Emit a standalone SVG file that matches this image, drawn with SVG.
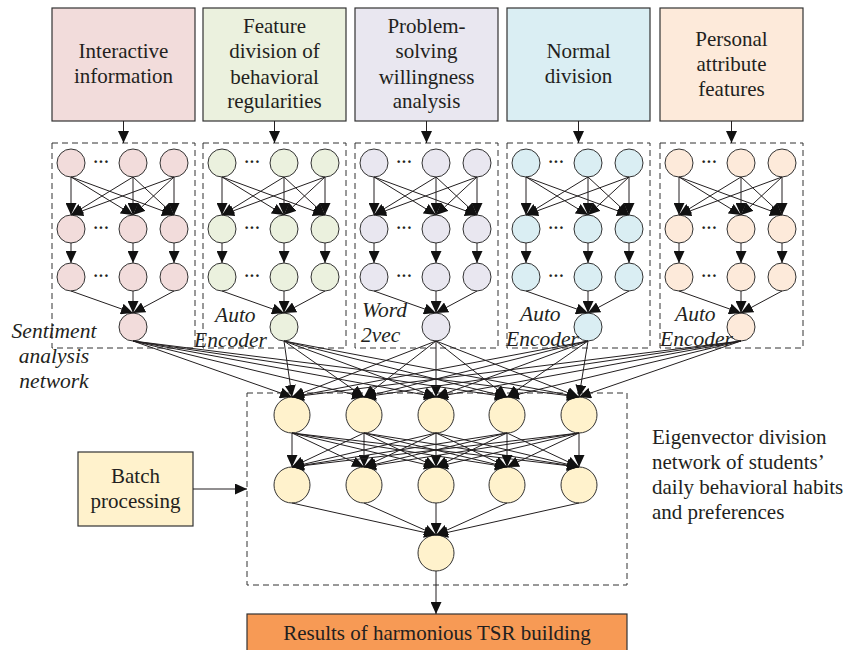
<svg xmlns="http://www.w3.org/2000/svg" width="848" height="650" viewBox="0 0 848 650">
<style>
.box{stroke:#333;stroke-width:1.2}
.t{font-family:"Liberation Serif","Times New Roman",serif;font-size:21px;fill:#231f20;text-anchor:middle}
.ts{font-family:"Liberation Serif","Times New Roman",serif;font-size:21px;fill:#231f20;text-anchor:start}
.it{font-family:"Liberation Serif","Times New Roman",serif;font-size:21.5px;font-style:italic;fill:#231f20}
.dash{fill:none;stroke:#333;stroke-width:1;stroke-dasharray:6 4}
.n{stroke:#333;stroke-width:1}
.p{fill:#f2dcdb}.g{fill:#ebf1de}.l{fill:#e9e7f0}.b{fill:#daeef3}.o{fill:#fdeada}.y{fill:#fff2cc}
.dots{font-family:"Liberation Serif",serif;font-size:16px;font-weight:bold;fill:#231f20;text-anchor:middle}
#conn path{fill:none;stroke:#231f20;stroke-width:1;marker-end:url(#ah)}
</style>
<defs>
<marker id="ah" markerUnits="userSpaceOnUse" markerWidth="12" markerHeight="11" viewBox="0 0 12 11" refX="12" refY="5.5" orient="auto"><path d="M0,0 L12,5.5 L0,11 z" fill="#111"/></marker>
</defs>
<rect width="848" height="650" fill="#fff"/>

<g id="in1"><rect class="box p" x="52" y="8" width="143" height="113"/><text class="t" x="123.5" y="58">Interactive</text><text class="t" x="123.5" y="83">information</text></g>
<g id="in2"><rect class="box g" x="203" y="8" width="143" height="113"/><text class="t" x="274.5" y="33">Feature</text><text class="t" x="274.5" y="58">division of</text><text class="t" x="274.5" y="84">behavioral</text><text class="t" x="274.5" y="108">regularities</text></g>
<g id="in3"><rect class="box l" x="355" y="8" width="143" height="113"/><text class="t" x="426.5" y="33">Problem-</text><text class="t" x="426.5" y="58">solving</text><text class="t" x="426.5" y="84">willingness</text><text class="t" x="426.5" y="108">analysis</text></g>
<g id="in4"><rect class="box b" x="507" y="8" width="143" height="113"/><text class="t" x="578.5" y="58">Normal</text><text class="t" x="578.5" y="83">division</text></g>
<g id="in5"><rect class="box o" x="660" y="8" width="143" height="113"/><text class="t" x="731.5" y="46">Personal</text><text class="t" x="731.5" y="71">attribute</text><text class="t" x="731.5" y="96">features</text></g>

<g id="net1">
<rect class="dash" x="52" y="143" width="143" height="205"/>
<circle class="n p" cx="71" cy="163" r="14"/><circle class="n p" cx="133" cy="163" r="14"/><circle class="n p" cx="174" cy="163" r="14"/>
<circle class="n p" cx="71" cy="229" r="14"/><circle class="n p" cx="133" cy="229" r="14"/><circle class="n p" cx="174" cy="229" r="14"/>
<circle class="n p" cx="71" cy="277" r="14"/><circle class="n p" cx="133" cy="277" r="14"/><circle class="n p" cx="174" cy="277" r="14"/>
<circle class="n p" cx="133" cy="327" r="14"/>
<text class="dots" x="101" y="167">···</text><text class="dots" x="101" y="233">···</text><text class="dots" x="101" y="281">···</text>
</g>
<g id="net2">
<rect class="dash" x="203" y="143" width="143" height="205"/>
<circle class="n g" cx="222" cy="163" r="14"/><circle class="n g" cx="284" cy="163" r="14"/><circle class="n g" cx="325" cy="163" r="14"/>
<circle class="n g" cx="222" cy="229" r="14"/><circle class="n g" cx="284" cy="229" r="14"/><circle class="n g" cx="325" cy="229" r="14"/>
<circle class="n g" cx="222" cy="277" r="14"/><circle class="n g" cx="284" cy="277" r="14"/><circle class="n g" cx="325" cy="277" r="14"/>
<circle class="n g" cx="284" cy="327" r="14"/>
<text class="dots" x="252" y="167">···</text><text class="dots" x="252" y="233">···</text><text class="dots" x="252" y="281">···</text>
</g>
<g id="net3">
<rect class="dash" x="355" y="143" width="143" height="205"/>
<circle class="n l" cx="374" cy="163" r="14"/><circle class="n l" cx="436" cy="163" r="14"/><circle class="n l" cx="477" cy="163" r="14"/>
<circle class="n l" cx="374" cy="229" r="14"/><circle class="n l" cx="436" cy="229" r="14"/><circle class="n l" cx="477" cy="229" r="14"/>
<circle class="n l" cx="374" cy="277" r="14"/><circle class="n l" cx="436" cy="277" r="14"/><circle class="n l" cx="477" cy="277" r="14"/>
<circle class="n l" cx="436" cy="327" r="14"/>
<text class="dots" x="404" y="167">···</text><text class="dots" x="404" y="233">···</text><text class="dots" x="404" y="281">···</text>
</g>
<g id="net4">
<rect class="dash" x="507" y="143" width="143" height="205"/>
<circle class="n b" cx="526" cy="163" r="14"/><circle class="n b" cx="588" cy="163" r="14"/><circle class="n b" cx="629" cy="163" r="14"/>
<circle class="n b" cx="526" cy="229" r="14"/><circle class="n b" cx="588" cy="229" r="14"/><circle class="n b" cx="629" cy="229" r="14"/>
<circle class="n b" cx="526" cy="277" r="14"/><circle class="n b" cx="588" cy="277" r="14"/><circle class="n b" cx="629" cy="277" r="14"/>
<circle class="n b" cx="588" cy="327" r="14"/>
<text class="dots" x="556" y="167">···</text><text class="dots" x="556" y="233">···</text><text class="dots" x="556" y="281">···</text>
</g>
<g id="net5">
<rect class="dash" x="660" y="143" width="143" height="205"/>
<circle class="n o" cx="679" cy="163" r="14"/><circle class="n o" cx="741" cy="163" r="14"/><circle class="n o" cx="782" cy="163" r="14"/>
<circle class="n o" cx="679" cy="229" r="14"/><circle class="n o" cx="741" cy="229" r="14"/><circle class="n o" cx="782" cy="229" r="14"/>
<circle class="n o" cx="679" cy="277" r="14"/><circle class="n o" cx="741" cy="277" r="14"/><circle class="n o" cx="782" cy="277" r="14"/>
<circle class="n o" cx="741" cy="327" r="14"/>
<text class="dots" x="709" y="167">···</text><text class="dots" x="709" y="233">···</text><text class="dots" x="709" y="281">···</text>
</g>

<g id="labels">
<text class="it" x="54" y="338" text-anchor="middle">Sentiment</text>
<text class="it" x="54" y="363" text-anchor="middle">analysis</text>
<text class="it" x="54" y="388" text-anchor="middle">network</text>
<text class="it" x="215" y="322">Auto</text><text class="it" x="194" y="347">Encoder</text>
<text class="it" x="362" y="317">Word</text><text class="it" x="361" y="342">2vec</text>
<text class="it" x="520" y="321">Auto</text><text class="it" x="506" y="346">Encoder</text>
<text class="it" x="675" y="321">Auto</text><text class="it" x="660" y="346">Encoder</text>
</g>

<g id="main">
<rect class="dash" x="247" y="393" width="380" height="192"/>
<circle class="n y" cx="292" cy="415" r="18"/><circle class="n y" cx="364" cy="415" r="18"/><circle class="n y" cx="436" cy="415" r="18"/><circle class="n y" cx="507" cy="415" r="18"/><circle class="n y" cx="579" cy="415" r="18"/>
<circle class="n y" cx="292" cy="485" r="18"/><circle class="n y" cx="364" cy="485" r="18"/><circle class="n y" cx="436" cy="485" r="18"/><circle class="n y" cx="507" cy="485" r="18"/><circle class="n y" cx="579" cy="485" r="18"/>
<circle class="n y" cx="436" cy="553" r="18"/>
</g>
<g id="desc"><text class="ts" x="652" y="444">Eigenvector division</text><text class="ts" x="652" y="469">network of students’</text><text class="ts" x="652" y="494">daily behavioral habits</text><text class="ts" x="652" y="519">and preferences</text></g>
<g id="batch"><rect class="box y" x="78" y="452" width="115" height="74"/><text class="t" x="135.5" y="483">Batch</text><text class="t" x="135.5" y="508">processing</text></g>
<g id="result"><rect class="box" fill="#f79a55" x="247" y="614" width="380" height="40"/><text class="t" x="437" y="640">Results of harmonious TSR building</text></g>

<g id="conn">
<path d="M123.5 121V143"/><path d="M274.5 121V143"/><path d="M426.5 121V143"/><path d="M578.5 121V143"/><path d="M731.5 121V143"/>
<path d="M71 177L71 215"/><path d="M71 177L133 215"/><path d="M71 177L174 215"/><path d="M133 177L71 215"/><path d="M133 177L133 215"/><path d="M133 177L174 215"/><path d="M174 177L71 215"/><path d="M174 177L133 215"/><path d="M174 177L174 215"/>
<path d="M71 243L71 263"/><path d="M133 243L133 263"/><path d="M174 243L174 263"/>
<path d="M71 291L133 313"/><path d="M133 291L133 313"/><path d="M174 291L133 313"/>
<path d="M222 177L222 215"/><path d="M222 177L284 215"/><path d="M222 177L325 215"/><path d="M284 177L222 215"/><path d="M284 177L284 215"/><path d="M284 177L325 215"/><path d="M325 177L222 215"/><path d="M325 177L284 215"/><path d="M325 177L325 215"/>
<path d="M222 243L222 263"/><path d="M284 243L284 263"/><path d="M325 243L325 263"/>
<path d="M222 291L284 313"/><path d="M284 291L284 313"/><path d="M325 291L284 313"/>
<path d="M374 177L374 215"/><path d="M374 177L436 215"/><path d="M374 177L477 215"/><path d="M436 177L374 215"/><path d="M436 177L436 215"/><path d="M436 177L477 215"/><path d="M477 177L374 215"/><path d="M477 177L436 215"/><path d="M477 177L477 215"/>
<path d="M374 243L374 263"/><path d="M436 243L436 263"/><path d="M477 243L477 263"/>
<path d="M374 291L436 313"/><path d="M436 291L436 313"/><path d="M477 291L436 313"/>
<path d="M526 177L526 215"/><path d="M526 177L588 215"/><path d="M526 177L629 215"/><path d="M588 177L526 215"/><path d="M588 177L588 215"/><path d="M588 177L629 215"/><path d="M629 177L526 215"/><path d="M629 177L588 215"/><path d="M629 177L629 215"/>
<path d="M526 243L526 263"/><path d="M588 243L588 263"/><path d="M629 243L629 263"/>
<path d="M526 291L588 313"/><path d="M588 291L588 313"/><path d="M629 291L588 313"/>
<path d="M679 177L679 215"/><path d="M679 177L741 215"/><path d="M679 177L782 215"/><path d="M741 177L679 215"/><path d="M741 177L741 215"/><path d="M741 177L782 215"/><path d="M782 177L679 215"/><path d="M782 177L741 215"/><path d="M782 177L782 215"/>
<path d="M679 243L679 263"/><path d="M741 243L741 263"/><path d="M782 243L782 263"/>
<path d="M679 291L741 313"/><path d="M741 291L741 313"/><path d="M782 291L741 313"/>
<path d="M133 341L292 397"/><path d="M133 341L364 397"/><path d="M133 341L436 397"/><path d="M133 341L507 397"/><path d="M133 341L579 397"/>
<path d="M284 341L292 397"/><path d="M284 341L364 397"/><path d="M284 341L436 397"/><path d="M284 341L507 397"/><path d="M284 341L579 397"/>
<path d="M436 341L292 397"/><path d="M436 341L364 397"/><path d="M436 341L436 397"/><path d="M436 341L507 397"/><path d="M436 341L579 397"/>
<path d="M588 341L292 397"/><path d="M588 341L364 397"/><path d="M588 341L436 397"/><path d="M588 341L507 397"/><path d="M588 341L579 397"/>
<path d="M741 341L292 397"/><path d="M741 341L364 397"/><path d="M741 341L436 397"/><path d="M741 341L507 397"/><path d="M741 341L579 397"/>
<path d="M292 433L292 467"/><path d="M292 433L364 467"/><path d="M292 433L436 467"/><path d="M292 433L507 467"/><path d="M292 433L579 467"/>
<path d="M364 433L292 467"/><path d="M364 433L364 467"/><path d="M364 433L436 467"/><path d="M364 433L507 467"/><path d="M364 433L579 467"/>
<path d="M436 433L292 467"/><path d="M436 433L364 467"/><path d="M436 433L436 467"/><path d="M436 433L507 467"/><path d="M436 433L579 467"/>
<path d="M507 433L292 467"/><path d="M507 433L364 467"/><path d="M507 433L436 467"/><path d="M507 433L507 467"/><path d="M507 433L579 467"/>
<path d="M579 433L292 467"/><path d="M579 433L364 467"/><path d="M579 433L436 467"/><path d="M579 433L507 467"/><path d="M579 433L579 467"/>
<path d="M292 503L436 535"/><path d="M364 503L436 535"/><path d="M436 503L436 535"/><path d="M507 503L436 535"/><path d="M579 503L436 535"/>
<path d="M436 571L436 614"/>
<path d="M193 489L247 489"/>
</g>
</svg>
